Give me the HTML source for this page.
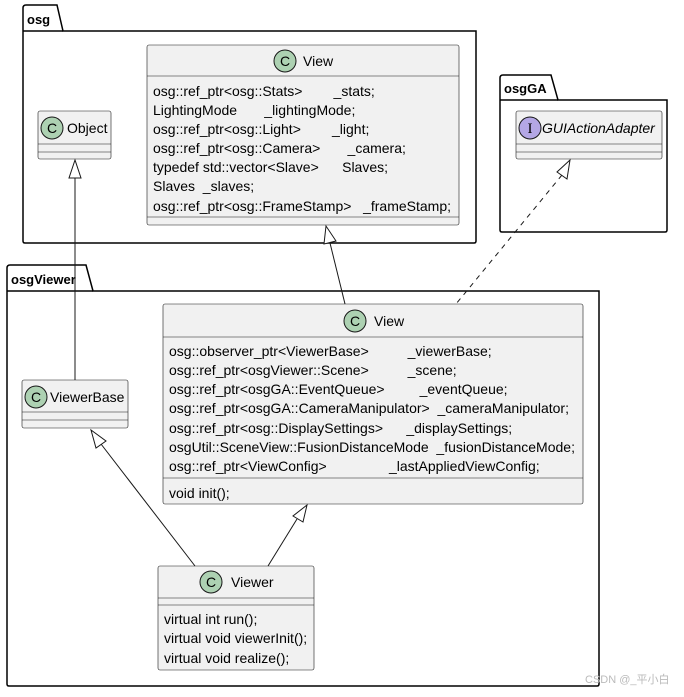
<!DOCTYPE html>
<html><head><meta charset="utf-8"><style>
html,body{margin:0;padding:0;background:#fff}
svg text{font-family:"Liberation Sans","Noto Sans CJK SC",sans-serif;font-size:14px;fill:#000;white-space:pre}
</style></head><body>
<svg width="684" height="692" viewBox="0 0 684 692" xml:space="preserve">
<defs>
<g id="cc"><circle r="11" fill="#ADD1B2" stroke="#181818" stroke-width="1"/><text x="0" y="5" text-anchor="middle" style="font-size:14px">C</text></g>
</defs>
<!-- osg package -->
<path d="M23,31 L23,8 Q23,5 26,5 L57,5 L63,31 L476,31 Q476,31 476,33 L476,241 Q476,243 474,243 L25,243 Q23,243 23,241 Z" fill="#fff" stroke="#000" stroke-width="1.5"/>
<line x1="23" y1="31" x2="63" y2="31" stroke="#000" stroke-width="1.5"/>
<text x="27" y="24" style="font-weight:bold;font-size:13px">osg</text>
<!-- osgGA -->
<path d="M500,100 L500,78 Q500,75 503,75 L551,75 L558,100 L667,100 L667,230 Q667,232 665,232 L502,232 Q500,232 500,230 Z" fill="#fff" stroke="#000" stroke-width="1.5"/>
<line x1="500" y1="100" x2="558" y2="100" stroke="#000" stroke-width="1.5"/>
<text x="504" y="93" style="font-weight:bold;font-size:13px">osgGA</text>
<!-- osgViewer -->
<path d="M7,291 L7,268 Q7,265 10,265 L86,265 L93,291 L599,291 L599,684 Q599,686 597,686 L9,686 Q7,686 7,684 Z" fill="#fff" stroke="#000" stroke-width="1.5"/>
<line x1="7" y1="291" x2="93" y2="291" stroke="#000" stroke-width="1.5"/>
<text x="11" y="284" style="font-weight:bold;font-size:13px">osgViewer</text>

<!-- osg View -->
<rect x="147" y="45" width="312" height="180" rx="2" fill="#F1F1F1" stroke="#181818" stroke-width="0.6"/>
<use href="#cc" x="285" y="61"/>
<text x="303" y="66">View</text>
<line x1="147" y1="76" x2="459" y2="76" stroke="#181818" stroke-width="0.6"/>
<text x="153" y="96">osg::ref_ptr&lt;osg::Stats&gt;        _stats;</text>
<text x="153" y="115">LightingMode       _lightingMode;</text>
<text x="153" y="134">osg::ref_ptr&lt;osg::Light&gt;        _light;</text>
<text x="153" y="153">osg::ref_ptr&lt;osg::Camera&gt;       _camera;</text>
<text x="153" y="172">typedef std::vector&lt;Slave&gt;      Slaves;</text>
<text x="153" y="191">Slaves  _slaves;</text>
<text x="153" y="211">osg::ref_ptr&lt;osg::FrameStamp&gt;   _frameStamp;</text>
<line x1="147" y1="217" x2="459" y2="217" stroke="#181818" stroke-width="0.6"/>

<!-- Object -->
<rect x="38" y="111" width="73" height="48" rx="2" fill="#F1F1F1" stroke="#181818" stroke-width="0.6"/>
<use href="#cc" x="52" y="128"/>
<text x="67" y="133">Object</text>
<line x1="38" y1="144" x2="111" y2="144" stroke="#181818" stroke-width="0.6"/>
<line x1="38" y1="152" x2="111" y2="152" stroke="#181818" stroke-width="0.6"/>

<!-- GUIActionAdapter -->
<rect x="516" y="111" width="146" height="48" rx="2" fill="#F1F1F1" stroke="#181818" stroke-width="0.6"/>
<circle cx="530" cy="128" r="11" fill="#B4A7E5" stroke="#181818" stroke-width="1"/>
<text x="530" y="133" text-anchor="middle" style="font-size:15px;font-family:'Liberation Serif',serif">I</text>
<text x="542" y="133" style="font-style:italic">GUIActionAdapter</text>
<line x1="516" y1="144" x2="662" y2="144" stroke="#181818" stroke-width="0.6"/>
<line x1="516" y1="152" x2="662" y2="152" stroke="#181818" stroke-width="0.6"/>

<!-- osgViewer View -->
<rect x="163" y="304" width="420" height="200" rx="2" fill="#F1F1F1" stroke="#181818" stroke-width="0.6"/>
<use href="#cc" x="355" y="321"/>
<text x="374" y="326">View</text>
<line x1="163" y1="337" x2="583" y2="337" stroke="#181818" stroke-width="0.6"/>
<text x="169" y="356">osg::observer_ptr&lt;ViewerBase&gt;          _viewerBase;</text>
<text x="169" y="375">osg::ref_ptr&lt;osgViewer::Scene&gt;          _scene;</text>
<text x="169" y="394">osg::ref_ptr&lt;osgGA::EventQueue&gt;         _eventQueue;</text>
<text x="169" y="413">osg::ref_ptr&lt;osgGA::CameraManipulator&gt;  _cameraManipulator;</text>
<text x="169" y="433">osg::ref_ptr&lt;osg::DisplaySettings&gt;      _displaySettings;</text>
<text x="169" y="452">osgUtil::SceneView::FusionDistanceMode  _fusionDistanceMode;</text>
<text x="169" y="471">osg::ref_ptr&lt;ViewConfig&gt;                _lastAppliedViewConfig;</text>
<line x1="163" y1="478" x2="583" y2="478" stroke="#181818" stroke-width="0.6"/>
<text x="169" y="498">void init();</text>

<!-- ViewerBase -->
<rect x="22" y="380" width="106" height="48" rx="2" fill="#F1F1F1" stroke="#181818" stroke-width="0.6"/>
<use href="#cc" x="36" y="397"/>
<text x="50" y="402">ViewerBase</text>
<line x1="22" y1="412" x2="128" y2="412" stroke="#181818" stroke-width="0.6"/>
<line x1="22" y1="420" x2="128" y2="420" stroke="#181818" stroke-width="0.6"/>

<!-- Viewer -->
<rect x="158" y="566" width="156" height="104" rx="2" fill="#F1F1F1" stroke="#181818" stroke-width="0.6"/>
<use href="#cc" x="211" y="582"/>
<text x="231" y="587">Viewer</text>
<line x1="158" y1="598" x2="314" y2="598" stroke="#181818" stroke-width="0.6"/>
<line x1="158" y1="605" x2="314" y2="605" stroke="#181818" stroke-width="0.6"/>
<text x="164" y="624">virtual int run();</text>
<text x="164" y="643">virtual void viewerInit();</text>
<text x="164" y="663">virtual void realize();</text>

<!-- edges -->
<g fill="none" stroke="#181818" stroke-width="1">
<line x1="75" y1="177" x2="75" y2="380"/>
<polygon points="75,160 69,178 81,178" fill="#fff"/>
<line x1="330" y1="243" x2="345" y2="304"/>
<polygon points="326,226 324,244 336,241" fill="#fff"/>
<line x1="562" y1="175" x2="456" y2="304" stroke-dasharray="5,5"/>
<polygon points="570,160 557,172 567,179" fill="#fff"/>
<line x1="101" y1="444" x2="195" y2="566"/>
<polygon points="91,430 96,448 106,441" fill="#fff"/>
<line x1="297" y1="519" x2="268" y2="566"/>
<polygon points="307,505 293,516 303,522" fill="#fff"/>
</g>
<text x="585" y="683" style="font-size:11px;fill:#bbb">CSDN @_平小白</text>
</svg>
</body></html>
